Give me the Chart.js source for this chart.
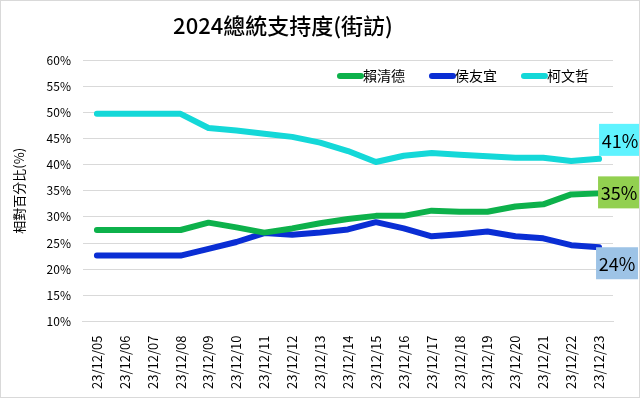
<!DOCTYPE html>
<html>
<head>
<meta charset="utf-8">
<script src="https://cdn.jsdelivr.net/npm/chart.js@4"></script>
<style>
  body { margin: 0; background: #fff; }
  #wrap { width: 638px; height: 396px; border: 1px solid #d9d9d9; }
</style>
</head>
<body>
<div id="wrap"><canvas id="c" width="638" height="396"></canvas></div>
<script>
// 2024 總統支持度 (街訪)

const dates = ['23/12/05','23/12/06','23/12/07','23/12/08','23/12/09','23/12/10','23/12/11','23/12/12','23/12/13','23/12/14',
  '23/12/15','23/12/16','23/12/17','23/12/18','23/12/19','23/12/20','23/12/21','23/12/22','23/12/23'];
const lai = [27.5,27.5,27.5,27.5,28.9,28.0,27.0,27.8,28.8,29.6,30.2,30.2,31.2,31.0,31.0,32.0,32.4,34.3,34.5];
const hou = [22.6,22.6,22.6,22.6,23.9,25.2,26.9,26.6,27.0,27.6,29.0,27.8,26.3,26.7,27.2,26.3,25.9,24.6,24.2];
const ko  = [49.7,49.7,49.7,49.7,47.0,46.5,45.9,45.3,44.2,42.6,40.5,41.7,42.2,41.9,41.6,41.3,41.3,40.7,41.1];
const endLabels = ['35%','24%','41%'];

const font = "'Noto Sans CJK TC', 'Liberation Sans', sans-serif";

// title, drawn a bit left of centre like the original
const titlePlugin = {
  id: 'titleText',
  afterDraw(chart) {
    const ctx = chart.ctx;
    ctx.save();
    ctx.fillStyle = '#000';
    ctx.font = "500 22px " + font;
    ctx.textAlign = 'center';
    ctx.textBaseline = 'middle';
    ctx.fillText('2024總統支持度(街訪)', 282, 25);
    ctx.restore();
  }
};

// legend inside the plot, top right
const legendPlugin = {
  id: 'inLegend',
  afterDatasetsDraw(chart) {
    const ctx = chart.ctx;
    const y = chart.chartArea.top + 16;
    let x = chart.chartArea.left + 254;
    ctx.save();
    ctx.font = "14px " + font;
    ctx.textBaseline = 'middle';
    ctx.lineWidth = 6;
    ctx.lineCap = 'round';
    chart.data.datasets.forEach(ds => {
      ctx.strokeStyle = ds.borderColor;
      ctx.beginPath();
      ctx.moveTo(x + 3, y);
      ctx.lineTo(x + 24, y);
      ctx.stroke();
      ctx.fillStyle = '#000';
      ctx.fillText(ds.label, x + 26, y);
      x += 92;
    });
    ctx.restore();
  }
};

// boxes with the last value at the end of each line
const boxStyle = [
  { bg: '#92d050', dx: -1, dy: -17 },
  { bg: '#9dc3e6', dx: -3, dy: 0 },
  { bg: '#5ff3ff', dx: 0, dy: -35 }
];
const endPlugin = {
  id: 'endLabels',
  afterDatasetsDraw(chart) {
    const ctx = chart.ctx;
    ctx.save();
    ctx.font = "18px " + font;
    ctx.textBaseline = 'middle';
    ctx.textAlign = 'center';
    chart.data.datasets.forEach((ds, i) => {
      const pts = chart.getDatasetMeta(i).data;
      const p = pts[pts.length - 1];
      const s = boxStyle[i];
      const x = p.x + s.dx, y = p.y + s.dy, w = 42, h = 32;
      ctx.fillStyle = s.bg;
      ctx.fillRect(x, y, w, h);
      ctx.fillStyle = '#000';
      ctx.fillText(endLabels[i], x + w / 2, y + h / 2 + 1);
    });
    ctx.restore();
  }
};

new Chart(document.getElementById('c'), {
  type: 'line',
  data: {
    labels: dates,
    datasets: [
      { label: '賴清德', data: lai, borderColor: '#0db14b', backgroundColor: '#0db14b' },
      { label: '侯友宜', data: hou, borderColor: '#0a2ed4', backgroundColor: '#0a2ed4' },
      { label: '柯文哲', data: ko,  borderColor: '#14d8d8', backgroundColor: '#14d8d8' }
    ]
  },
  options: {
    responsive: false,
    animation: false,
    layout: { padding: { top: 59, right: 26, left: 10, bottom: 2 } },
    elements: {
      line: { borderWidth: 6, tension: 0, borderCapStyle: 'round', borderJoinStyle: 'round' },
      point: { radius: 0 }
    },
    scales: {
      x: {
        offset: true,
        grid: { display: false },
        border: { color: '#d9d9d9', width: 1 },
        ticks: { color: '#000', font: { family: font, size: 13 }, minRotation: 90, maxRotation: 90, padding: 6 }
      },
      y: {
        min: 10, max: 60,
        grid: { color: '#d9d9d9', drawTicks: false },
        border: { display: false },
        ticks: { stepSize: 5, color: '#000', padding: 12, font: { family: font, size: 12 }, callback: v => v + '%' },
        title: { display: true, text: '相對百分比(%)', color: '#000', font: { family: font, size: 13 }, padding: { top: 0, bottom: 8 } }
      }
    },
    plugins: {
      title: { display: false },
      tooltip: { enabled: false },
      legend: { display: false }
    }
  },
  plugins: [titlePlugin, legendPlugin, endPlugin]
});
</script>
</body>
</html>
